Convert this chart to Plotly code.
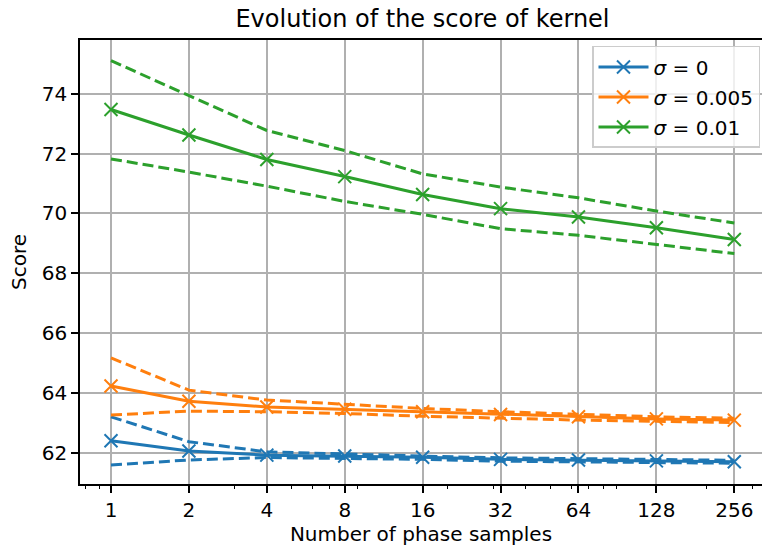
import math
import plotly.graph_objects as go

# ---- data ----
n_samples = [1, 2, 4, 8, 16, 32, 64, 128, 256]
tick_labels = ["1", "2", "4", "8", "16", "32", "64", "128", "256"]

mean_s0 = [62.41, 62.07, 61.93, 61.90, 61.86, 61.79, 61.77, 61.74, 61.71]
upper_s0 = [63.21, 62.38, 62.04, 61.96, 61.90, 61.84, 61.81, 61.79, 61.76]
lower_s0 = [61.60, 61.77, 61.85, 61.83, 61.79, 61.73, 61.71, 61.69, 61.66]

mean_s005 = [64.24, 63.73, 63.54, 63.46, 63.38, 63.29, 63.21, 63.14, 63.10]
upper_s005 = [65.18, 64.10, 63.77, 63.63, 63.49, 63.38, 63.29, 63.21, 63.16]
lower_s005 = [63.27, 63.40, 63.38, 63.32, 63.23, 63.16, 63.10, 63.06, 63.02]

mean_s01 = [73.47, 72.62, 71.80, 71.23, 70.63, 70.16, 69.88, 69.52, 69.13]
upper_s01 = [75.10, 73.93, 72.77, 72.10, 71.32, 70.88, 70.52, 70.08, 69.68]
lower_s01 = [71.82, 71.38, 70.91, 70.40, 69.97, 69.49, 69.27, 68.97, 68.66]

series_names = ["<i>σ</i> = 0", "<i>σ</i> = 0.005", "<i>σ</i> = 0.01"]
minor_ticks = [0.8, 0.9, 3, 5, 6, 7, 9, 20, 30, 40, 50, 60, 70, 80, 90, 200, 300]

# ---- style ----
colors = ["#1f77b4", "#ff7f0e", "#2ca02c"]
FONT = "DejaVu Sans"
LW = 3.0

fig = go.Figure()
groups = [
    (mean_s0, upper_s0, lower_s0),
    (mean_s005, upper_s005, lower_s005),
    (mean_s01, upper_s01, lower_s01),
]
for i, (m, u, l) in enumerate(groups):
    c = colors[i]
    fig.add_trace(go.Scatter(
        x=n_samples, y=m, mode="lines+markers", name=series_names[i],
        legendgroup=f"g{i}",
        line=dict(color=c, width=LW),
        marker=dict(symbol="x-thin", size=13, color=c, line=dict(color=c, width=2)),
    ))
    for arr in (u, l):
        fig.add_trace(go.Scatter(
            x=n_samples, y=arr, mode="lines", showlegend=False,
            legendgroup=f"g{i}", hoverinfo="skip",
            line=dict(color=c, width=LW, dash="11px,5px"),
        ))

# invisible trace for minor-tick axis
fig.add_trace(go.Scatter(x=[1], y=[62], xaxis="x2", mode="markers",
                         marker=dict(opacity=0), showlegend=False, hoverinfo="skip"))

W, H = 762, 554
left, top = 80, 40
bottom = H - 484.3
px_per_doubling = (734.3 - 111.0) / 8
xlo = -((111.0 - left) / px_per_doubling)
xhi = 8 + (W - 734.3) / px_per_doubling
xrange = [xlo * math.log10(2), xhi * math.log10(2)]
plot_w = W - left
plot_h = H - top - bottom

fig.update_layout(
    width=W, height=H,
    margin=dict(l=left, r=0, t=top, b=bottom, autoexpand=False),
    paper_bgcolor="white", plot_bgcolor="white",
    font=dict(family=FONT, size=20, color="black"),
    title=dict(text="Evolution of the score of kernel", font=dict(size=24, color="black"),
               x=422.5 / W, xref="container", xanchor="center",
               y=1 - 19 / H, yref="container", yanchor="middle"),
    showlegend=True,
    legend=dict(
        x=(760 - left) / plot_w, xanchor="right",
        y=1 - 6 / plot_h, yanchor="top",
        bgcolor="rgba(255,255,255,0.8)", bordercolor="#cccccc", borderwidth=1.5,
        font=dict(size=20), traceorder="grouped", tracegroupgap=1,
        itemwidth=50,
    ),
    xaxis=dict(
        type="log", range=xrange,
        tickvals=n_samples, ticktext=tick_labels,
        ticks="outside", ticklen=7, tickwidth=1.6, tickcolor="black",
        showline=True, linecolor="black", linewidth=1.6, mirror=True,
        showgrid=True, gridcolor="#b0b0b0", gridwidth=1.6,
        zeroline=False,
        title=dict(text="Number of phase samples", font=dict(size=20), standoff=5),
        tickfont=dict(size=20),
    ),
    xaxis2=dict(
        type="log", range=xrange, overlaying="x", anchor="y", side="bottom",
        tickvals=minor_ticks, ticks="outside", ticklen=4, tickwidth=1.2, tickcolor="black",
        showticklabels=False, showgrid=False, showline=False, zeroline=False,
    ),
    yaxis=dict(
        range=[60.967, 75.79], dtick=2, tick0=62,
        ticks="outside", ticklen=7, tickwidth=1.6, tickcolor="black",
        showline=True, linecolor="black", linewidth=1.6, mirror=False,
        showgrid=True, gridcolor="#b0b0b0", gridwidth=1.6,
        zeroline=False,
        title=dict(text="Score", font=dict(size=20), standoff=10),
        tickfont=dict(size=20),
    ),
)

# remove the browser's default 8px body margin so the figure sits at the page origin
fig.write_html("out.html", config={"displayModeBar": False},
               post_script="document.body.style.margin='0';document.body.style.overflow='hidden';")
